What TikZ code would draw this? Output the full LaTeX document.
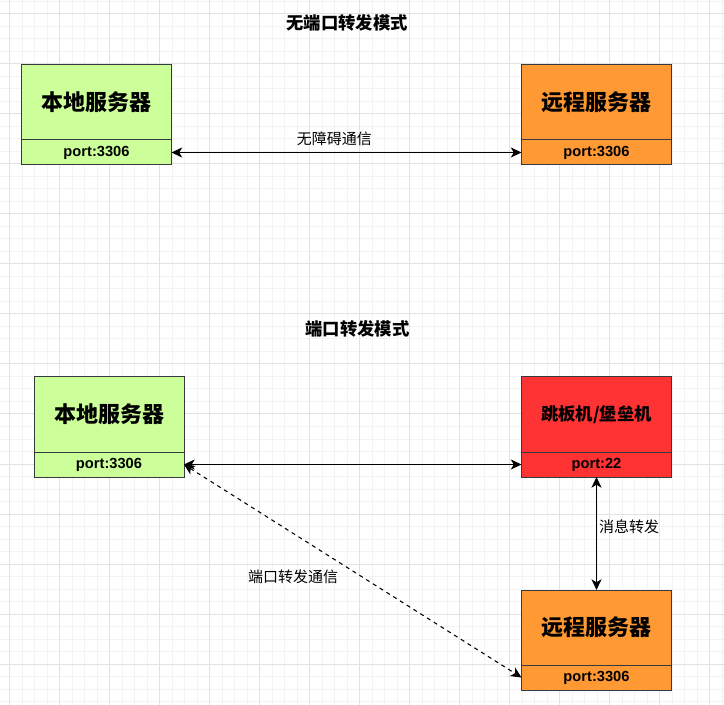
\documentclass[tikz,border=0pt]{standalone}
\usepackage{fontspec}
\newfontfamily\cjk{Noto Sans CJK SC}
\newfontfamily\portfont{Liberation Sans}
\usetikzlibrary{positioning,arrows.meta}
\definecolor{localgreen}{HTML}{CCFF99}
\definecolor{remoteorange}{HTML}{FF9933}
\definecolor{jumpred}{HTML}{FF3333}
\definecolor{boxline}{HTML}{36393D}
\definecolor{gridminor}{HTML}{F3F3F3}
\definecolor{gridmajor}{HTML}{E2E2E2}
\begin{document}
\begin{tikzpicture}[x=0.75pt,y=-0.75pt,
  head/.style={draw=boxline,line width=0.75pt,outer sep=0pt,inner sep=0pt,minimum width=112.5pt,minimum height=56.25pt,font=\cjk\bfseries\fontsize{16.5}{18}\selectfont},
  portcell/.style={draw=boxline,line width=0.75pt,outer sep=0pt,inner sep=0pt,minimum width=112.5pt,minimum height=18.75pt,font=\portfont\bfseries\fontsize{11}{12}\selectfont},
  title/.style={font=\cjk\bfseries\fontsize{13}{15}\selectfont,inner sep=0pt},
  lbl/.style={font=\cjk\fontsize{11.25}{13}\selectfont,inner sep=0pt},
  link/.style={line width=1.1pt,{Stealth[length=8pt,width=7.5pt,inset=2.2pt]}-{Stealth[length=8pt,width=7.5pt,inset=2.2pt]}}]
\useasboundingbox (0,0) rectangle (724,705);
\fill[white] (0,0) rectangle (724,705);
\foreach \i in {0,...,58} \draw[gridminor,line width=0.75pt] (-3+12.5*\i,0) -- (-3+12.5*\i,705);
\foreach \i in {0,...,56} \draw[gridminor,line width=0.75pt] (0,1.5+12.5*\i) -- (724,1.5+12.5*\i);
\foreach \i in {0,...,14} \draw[gridmajor,line width=0.75pt] (9.5+50*\i,0) -- (9.5+50*\i,705);
\foreach \i in {0,...,13} \draw[gridmajor,line width=0.75pt] (0,14+50*\i) -- (724,14+50*\i);

\node[title] (titleA) at (347,22.5) {无端口转发模式};
\node[head,fill=localgreen] (localA) at (96.5,102.5) {本地服务器};
\node[portcell,fill=localgreen,below=0pt of localA] (localAport) {port:3306};
\node[head,fill=remoteorange] (remoteA) at (596.5,102.5) {远程服务器};
\node[portcell,fill=remoteorange,below=0pt of remoteA] (remoteAport) {port:3306};
\draw[link] (localAport.east) -- (remoteAport.west) node[lbl,pos=0.465,yshift=10.5pt] (directlbl) {无障碍通信};

\node[title] (titleB) at (357.5,329) {端口转发模式};
\node[head,fill=localgreen] (localB) at (109,414.5) {本地服务器};
\node[portcell,fill=localgreen,below=0pt of localB] (localBport) {port:3306};
\node[head,fill=jumpred,font=\cjk\bfseries\fontsize{13}{15}\selectfont] (jump) at (596.5,414.5) {跳板机/堡垒机};
\node[portcell,fill=jumpred,below=0pt of jump] (jumpport) {port:22};
\node[head,fill=remoteorange] (remoteB) at (596.5,627.5) {远程服务器};
\node[portcell,fill=remoteorange,below=0pt of remoteB] (remoteBport) {port:3306};
\draw[link] (localBport.east) -- (jumpport.west);
\draw[link] (jumpport.south) -- (remoteB.north) node[lbl,pos=0.44,anchor=west,xshift=1.5pt] (relaylbl) {消息转发};
\draw[link,line width=0.8pt,dash pattern=on 3pt off 3pt] (localBport.east) -- (remoteBport.west);
\node[lbl] (fwdlbl) at (293,577) {端口转发通信};
\end{tikzpicture}
\end{document}
